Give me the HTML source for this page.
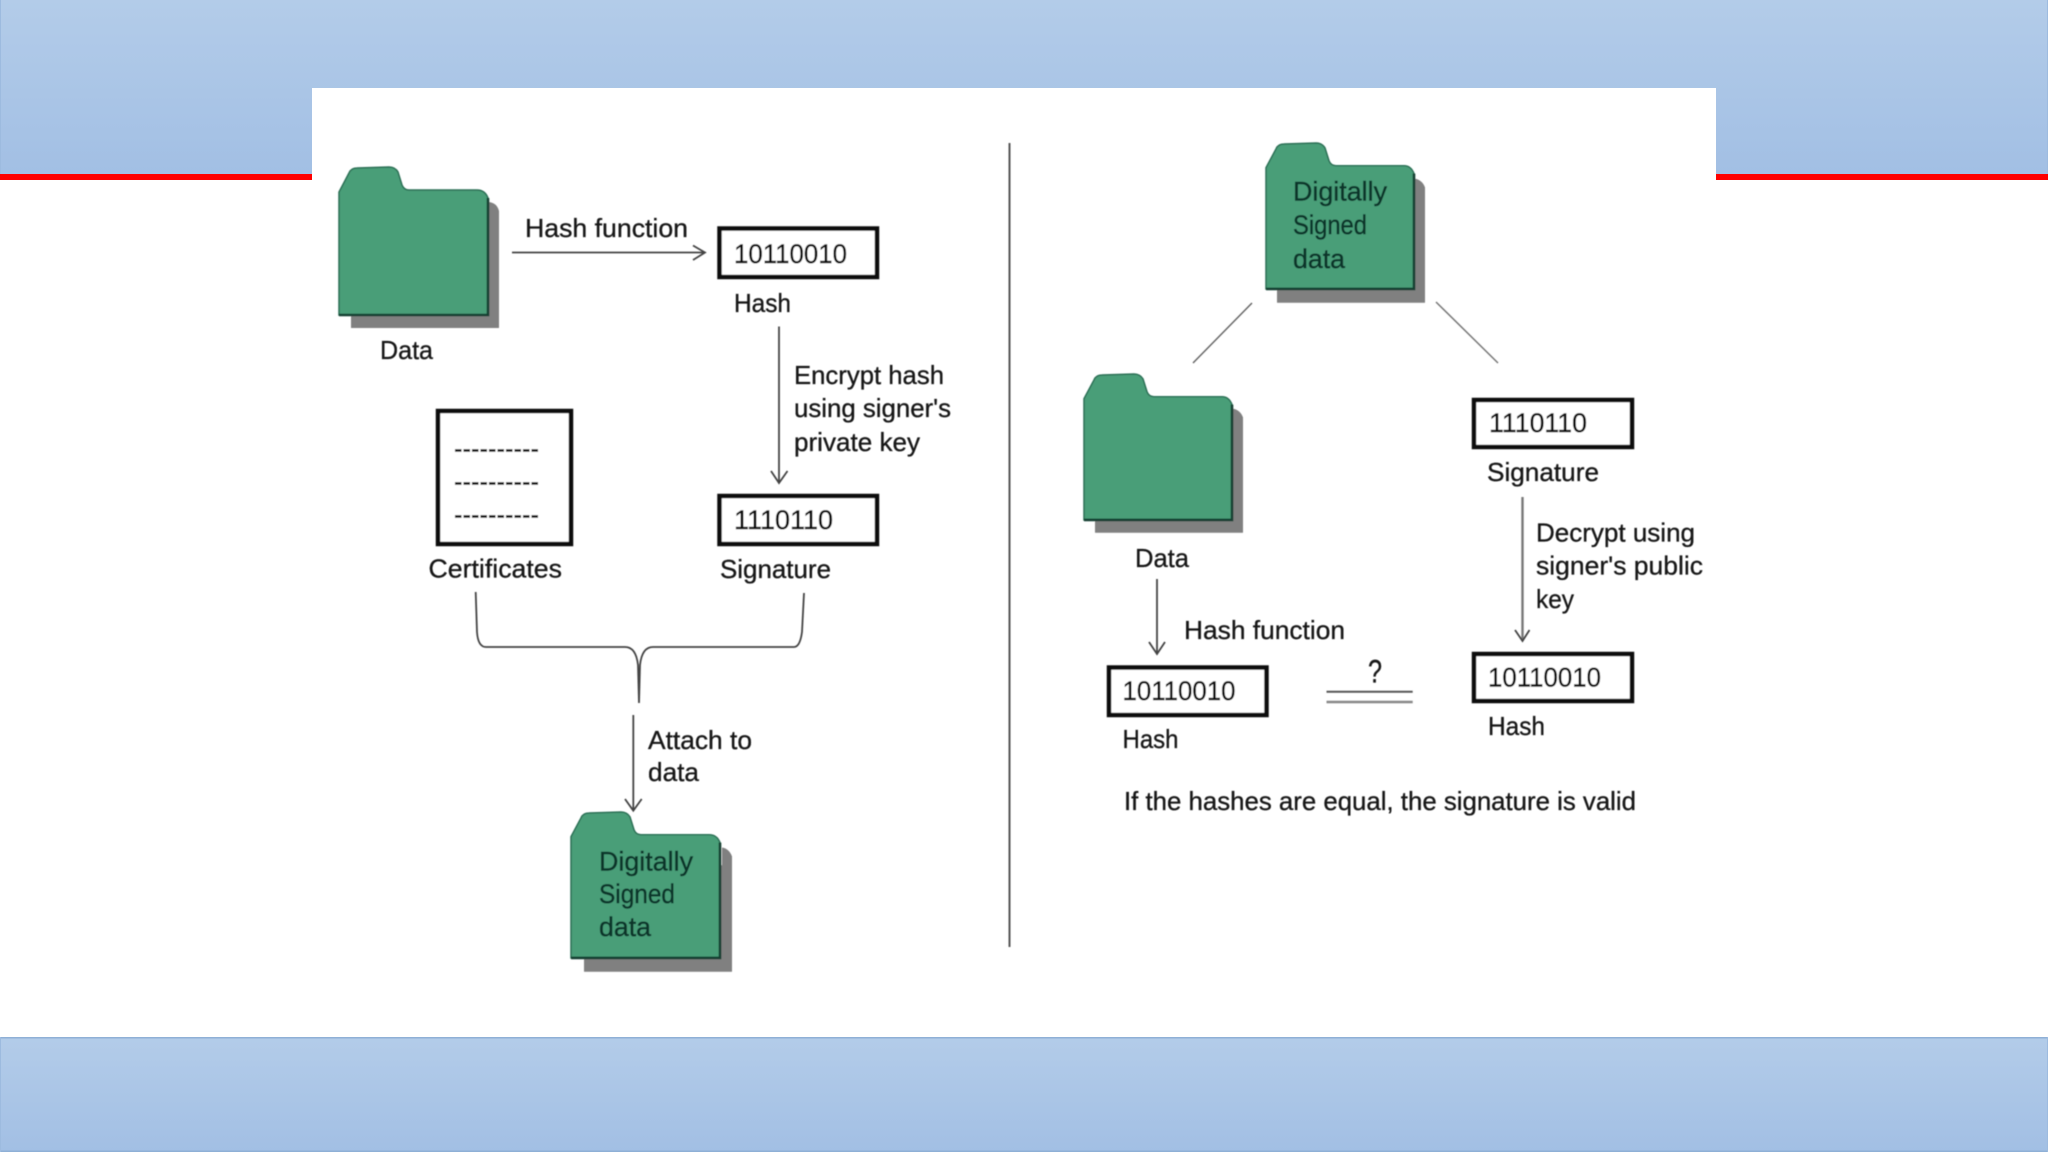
<!DOCTYPE html>
<html lang="en">
<head>
<meta charset="utf-8">
<title>Digital signature diagram</title>
<style>
html,body{margin:0;padding:0;background:#fff;width:2048px;height:1152px;overflow:hidden}
svg{display:block;position:absolute;left:0;top:0}
text{font-family:"Liberation Sans",sans-serif;font-size:26px;fill:#151515;stroke:#151515;stroke-width:.3}
.n{font-size:27px;fill:#111;stroke:#111;stroke-width:.4}
.g{fill:#08352a;stroke:#08352a;stroke-width:.45;font-size:27px}
.fs{fill:#808080}
.ff{fill:#4a9e78;stroke:#2c6f55;stroke-width:1.5}
.fe{fill:none;stroke:#123f30;stroke-width:2.6}
.box{fill:#fff;stroke:#111;stroke-width:4.5}
.l{fill:none;stroke:#444;stroke-width:1.8}
</style>
</head>
<body>
<svg width="2048" height="1152" viewBox="0 0 2048 1152" xmlns="http://www.w3.org/2000/svg">
<defs>
<linearGradient id="bg" x1="0" y1="0" x2="0" y2="1">
<stop offset="0" stop-color="#b3cce9"/>
<stop offset="1" stop-color="#a2bfe4"/>
</linearGradient>
<filter id="soft" x="-2%" y="-2%" width="104%" height="104%"><feGaussianBlur stdDeviation="0.6"/></filter>
</defs>

<rect width="2048" height="1152" fill="#fff"/>
<rect x="0" y="0" width="2048" height="174" fill="url(#bg)"/>
<rect x="0" y="174" width="2048" height="6" fill="#fe0000"/>
<rect x="0" y="0" width="1" height="174" fill="#9dbbdf"/>
<rect x="2047" y="0" width="1" height="174" fill="#9dbbdf"/>
<rect x="0" y="1037" width="2048" height="115" fill="url(#bg)"/>
<rect x="0" y="1037" width="2048" height="1.5" fill="#8fb0d6"/>
<rect x="0" y="1150.5" width="2048" height="1.5" fill="#8fb0d6"/>
<rect x="0" y="1037" width="1" height="115" fill="#9dbbdf"/>
<rect x="2047" y="1037" width="1" height="115" fill="#9dbbdf"/>
<rect x="312" y="88" width="1404" height="100" fill="#fff"/>

<g filter="url(#soft)">
<!-- Divider -->
<line x1="1009.5" y1="143" x2="1009.5" y2="947" stroke="#555" stroke-width="2"/>

<!-- Left Data folder -->
<g transform="translate(339 167)">
<path class="fs" transform="translate(12 13)" d="M0 148V40H138V22Q146 23 148 31V148Z"/>
<path class="ff" d="M0 148V25L10 6Q12 1 18 1L50 0Q56 0 59 5L63 18Q65 23 70 23H138Q146 23 149 31V148Z"/>
<path class="fe" d="M0 148H149V31"/>
</g>
<text x="380" y="359" textLength="53" lengthAdjust="spacingAndGlyphs">Data</text>

<!-- Hash function arrow -->
<text x="525" y="237" textLength="163" lengthAdjust="spacingAndGlyphs">Hash function</text>
<path class="l" d="M512 252.5H705M693 245.5 705 252.5 693 260"/>

<!-- Hash box -->
<rect class="box" x="719.5" y="228.5" width="157.5" height="48.5"/>
<text class="n" x="734" y="263" textLength="113" lengthAdjust="spacingAndGlyphs">10110010</text>
<text x="734" y="312" textLength="57" lengthAdjust="spacingAndGlyphs">Hash</text>

<!-- Encrypt arrow -->
<path class="l" d="M779 326.5V483M771 471 779 483 787.5 471"/>
<text x="794" y="384" textLength="150" lengthAdjust="spacingAndGlyphs">Encrypt hash</text>
<text x="794" y="417" textLength="157" lengthAdjust="spacingAndGlyphs">using signer's</text>
<text x="794" y="451" textLength="126" lengthAdjust="spacingAndGlyphs">private key</text>

<!-- Certificates -->
<rect class="box" x="438" y="411" width="133" height="133"/>
<text class="n" x="454" y="457.5" textLength="85" lengthAdjust="spacingAndGlyphs">----------</text>
<text class="n" x="454" y="490.5" textLength="85" lengthAdjust="spacingAndGlyphs">----------</text>
<text class="n" x="454" y="523.5" textLength="85" lengthAdjust="spacingAndGlyphs">----------</text>
<text x="428.5" y="577.5" textLength="133.5" lengthAdjust="spacingAndGlyphs">Certificates</text>

<!-- Signature -->
<rect class="box" x="719.5" y="496" width="157.5" height="48"/>
<text class="n" x="734" y="529" textLength="99" lengthAdjust="spacingAndGlyphs">1110110</text>
<text x="720" y="578" textLength="111" lengthAdjust="spacingAndGlyphs">Signature</text>

<!-- Brace -->
<path class="l" stroke-width="2" d="M475.7 592 477 632Q478 647 486 647H625Q636 647 638 665L639 703 640 665Q642 647 653 647H794Q800 647 802 632L804 593"/>

<!-- Attach arrow -->
<path class="l" d="M633.3 715V810.7M625 799 633.3 810.7 641.7 799"/>
<text x="648" y="749" textLength="104" lengthAdjust="spacingAndGlyphs">Attach to</text>
<text x="648" y="781" textLength="51" lengthAdjust="spacingAndGlyphs">data</text>

<!-- Left signed folder -->
<g transform="translate(571 812) scale(1 .986)">
<path class="fs" transform="translate(13 14)" d="M0 148V40H138V22Q145 23 148 31V148Z"/>
<path class="ff" d="M0 148V25L10 6Q12 1 18 1L50 0Q56 0 59 5L63 18Q65 23 70 23H138Q146 23 149 31V148Z"/>
<path class="fe" d="M0 148H149V31"/>
</g>
<text class="g" x="599" y="870.5" textLength="94" lengthAdjust="spacingAndGlyphs">Digitally</text>
<text class="g" x="599" y="903" textLength="76" lengthAdjust="spacingAndGlyphs">Signed</text>
<text class="g" x="599" y="936" textLength="52" lengthAdjust="spacingAndGlyphs">data</text>

<!-- Right signed folder -->
<g transform="translate(1266 143) scale(1 .986)">
<path class="fs" transform="translate(11 14)" d="M0 148V40H137V22Q145 23 148 31V148Z"/>
<path class="ff" d="M0 148V25L10 6Q12 1 18 1L50 0Q56 0 59 5L63 18Q65 23 70 23H138Q145 23 148 31V148Z"/>
<path class="fe" d="M0 148H148V31"/>
</g>
<text class="g" x="1293" y="200.7" textLength="94" lengthAdjust="spacingAndGlyphs">Digitally</text>
<text class="g" x="1293" y="234" textLength="74" lengthAdjust="spacingAndGlyphs">Signed</text>
<text class="g" x="1293" y="268" textLength="52" lengthAdjust="spacingAndGlyphs">data</text>

<!-- Diagonals -->
<line x1="1252" y1="303" x2="1193" y2="363" stroke="#666" stroke-width="1.5"/>
<line x1="1436" y1="302" x2="1498" y2="363" stroke="#777" stroke-width="1.5"/>

<!-- Right Data folder -->
<g transform="translate(1084 374) scale(1 .986)">
<path class="fs" transform="translate(11 13)" d="M0 148V40H137V22Q145 23 148 31V148Z"/>
<path class="ff" d="M0 148V25L10 6Q12 1 18 1L50 0Q56 0 59 5L63 18Q65 23 70 23H138Q145 23 148 31V148Z"/>
<path class="fe" d="M0 148H148V31"/>
</g>
<text x="1135" y="567" textLength="54" lengthAdjust="spacingAndGlyphs">Data</text>

<!-- Right signature -->
<rect class="box" x="1474" y="400" width="158" height="47"/>
<text class="n" x="1489" y="432" textLength="98" lengthAdjust="spacingAndGlyphs">1110110</text>
<text x="1487" y="481" textLength="112" lengthAdjust="spacingAndGlyphs">Signature</text>

<!-- Decrypt arrow -->
<path fill="none" stroke="#777" stroke-width="2.4" d="M1522.5 497V641"/>
<path class="l" d="M1515 630 1522.5 641 1529.5 630"/>
<text x="1536" y="541.7" textLength="159" lengthAdjust="spacingAndGlyphs">Decrypt using</text>
<text x="1536" y="574.5" textLength="167" lengthAdjust="spacingAndGlyphs">signer's public</text>
<text x="1536" y="608" textLength="38" lengthAdjust="spacingAndGlyphs">key</text>

<!-- Left lower arrow -->
<path class="l" d="M1157 579V654M1149 642 1157 654 1165 642"/>
<text x="1184" y="639" textLength="161" lengthAdjust="spacingAndGlyphs">Hash function</text>

<!-- Lower left hash -->
<rect class="box" x="1109" y="667.5" width="157.5" height="47.5"/>
<text class="n" x="1122.5" y="700" textLength="113" lengthAdjust="spacingAndGlyphs">10110010</text>
<text x="1122.5" y="748" textLength="56" lengthAdjust="spacingAndGlyphs">Hash</text>

<!-- Equals -->
<text x="1368" y="682.7" style="font-size:32px" textLength="14" lengthAdjust="spacingAndGlyphs">?</text>
<line x1="1326.5" y1="691.7" x2="1412.7" y2="691.7" stroke="#555" stroke-width="2"/>
<line x1="1326.5" y1="702" x2="1412.7" y2="702" stroke="#888" stroke-width="2.4"/>

<!-- Lower right hash -->
<rect class="box" x="1474" y="654" width="158" height="47"/>
<text class="n" x="1488" y="686.7" textLength="113" lengthAdjust="spacingAndGlyphs">10110010</text>
<text x="1488" y="735" textLength="57" lengthAdjust="spacingAndGlyphs">Hash</text>

<!-- Conclusion -->
<text x="1124" y="810" textLength="512" lengthAdjust="spacingAndGlyphs">If the hashes are equal, the signature is valid</text>
</g>
</svg>
</body>
</html>
